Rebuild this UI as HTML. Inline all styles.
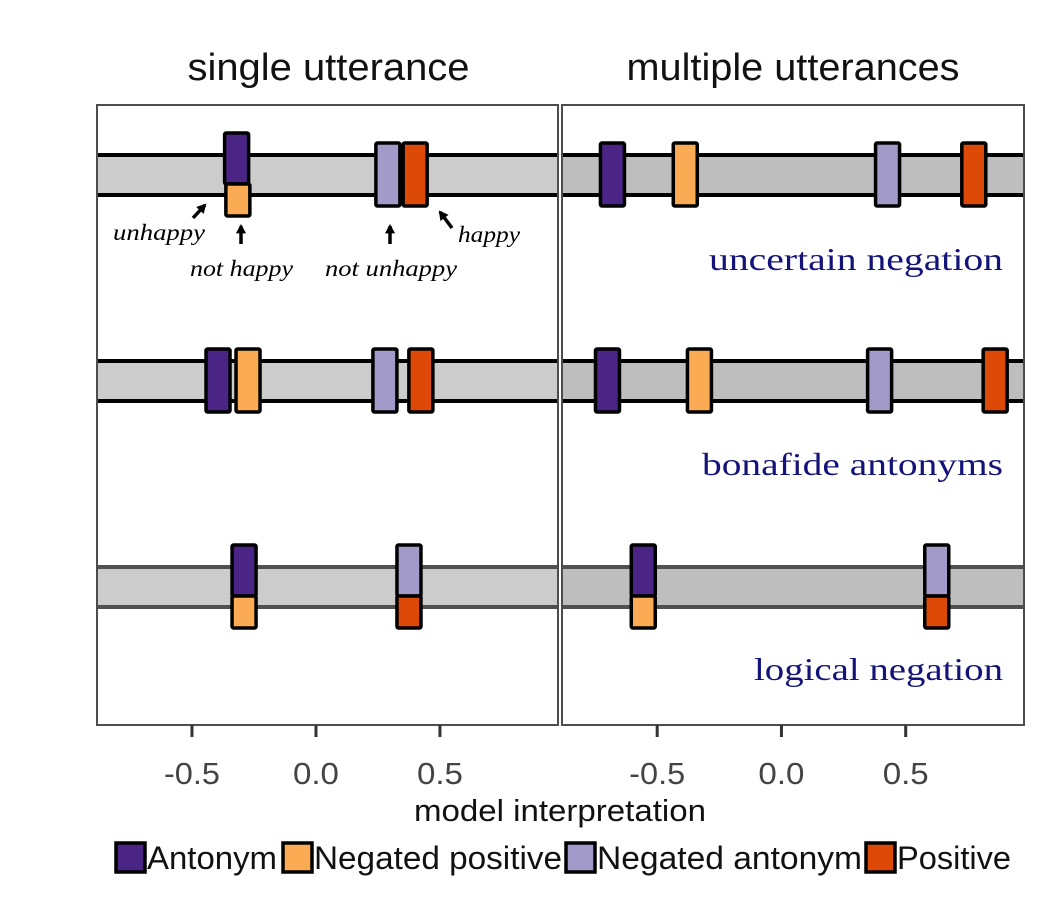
<!DOCTYPE html>
<html><head><meta charset="utf-8"><style>
html,body{margin:0;padding:0;background:#fff;}
svg{display:block;}
</style></head><body>
<svg id="chart" width="1050" height="900" xmlns="http://www.w3.org/2000/svg"></svg>
<script>
const categories = ["Antonym","Negated positive","Negated antonym","Positive"];
const colors = ["#4b2585","#fbab53","#a29ac8","#dd4a08"];
const conditions = ["uncertain negation","bonafide antonyms","logical negation"];
const panels = ["single utterance","multiple utterances"];
// values[condition] = [Antonym, Negated positive, Negated antonym, Positive]
const singleValues = [[-0.32,-0.315,0.29,0.40],[-0.395,-0.274,0.278,0.423],[-0.29,-0.29,0.375,0.375]];
const multipleValues = [[-0.68,-0.387,0.427,0.774],[-0.70,-0.33,0.395,0.86],[-0.556,-0.556,0.625,0.625]];
const tickValues = [-0.5,0.0,0.5];
const tickLabels = ["-0.5","0.0","0.5"];
const xDomain = [-0.883,0.976];

const NS="http://www.w3.org/2000/svg";
const svg=document.getElementById('chart');
function mk(tag,attrs,parent){const e=document.createElementNS(NS,tag);for(const k in attrs)e.setAttribute(k,attrs[k]);(parent||svg).appendChild(e);return e;}
const panelX=[[97,558],[562,1024]];
const plotTop=105,plotBottom=725;
const rowCenter=[175,381,587];
function xs(p,v){const [a,b]=panelX[p];return a+(v-xDomain[0])/(xDomain[1]-xDomain[0])*(b-a);}
const allVals=[singleValues,multipleValues];
const SANS='Liberation Sans, sans-serif';

for(let p=0;p<2;p++){
  const g=mk('g',{});
  
  
  const [a,b]=panelX[p];
  const t=mk('text',{x:(a+b)/2+(p===0?1:0),y:80,'text-anchor':'middle','font-family':SANS,'font-size':38,fill:'#111',textLength:p===0?282:333,lengthAdjust:'spacingAndGlyphs'},g);
  t.textContent=panels[p];
  
  
  for(let r=0;r<3;r++){
    const cy=rowCenter[r];
    const band=mk('rect',{x:a,y:cy-20,width:b-a,height:40,fill:p===0?'#cccccc':'#bebebe'},g);
    
    
    const lc=r===2?'#505050':'#000';
    mk('line',{x1:a,x2:b,y1:cy-20,y2:cy-20,stroke:lc,'stroke-width':4},g);
    mk('line',{x1:a,x2:b,y1:cy+20,y2:cy+20,stroke:lc,'stroke-width':4},g);
  }
  for(let r=0;r<3;r++){
    const cy=rowCenter[r];
    const vals=allVals[p][r];
    for(let i=0;i<4;i++){
      const cx=xs(p,vals[i]);
      let y0=cy-32,h=63;
      const partner=i^1;
      const overlap=Math.abs(xs(p,vals[partner])-cx)<20;
      if(overlap){ if(i%2===0){y0=cy-42;h=51;} else {y0=cy+9;h=32;} }
      const rc=mk('rect',{x:cx-12,y:y0,width:24,height:h,fill:colors[i],stroke:'#000','stroke-width':3.5,rx:1.5},g);
      
      
    }
  }
  mk('rect',{x:a,y:plotTop,width:b-a,height:plotBottom-plotTop,fill:'none',stroke:'#4d4d4d','stroke-width':2},g);
  for(let k=0;k<tickValues.length;k++){
    const x=xs(p,tickValues[k]);
    mk('line',{x1:x,x2:x,y1:plotBottom,y2:plotBottom+12,stroke:'#333','stroke-width':3},g);
    const tl=mk('text',{x:x,y:784,'text-anchor':'middle','font-family':SANS,'font-size':31,fill:'#444',textLength:k===0?56:46,lengthAdjust:'spacingAndGlyphs'},g);
    tl.textContent=tickLabels[k];
    
    
  }
}
const condY=[270,475,680];
const condW=[294,301,249];
for(let r=0;r<3;r++){
  const t=mk('text',{x:1003,y:condY[r],'text-anchor':'end','font-family':'Liberation Serif, serif','font-size':32,fill:'#13137a',textLength:condW[r],lengthAdjust:'spacingAndGlyphs'});
  t.textContent=conditions[r];
  
  
}
const ann=[["unhappy",113,240,92],["not happy",190,276,103],["not unhappy",325,276,132],["happy",458,242,62]];
for(const [s,x,y,w] of ann){
  const t=mk('text',{x:x,y:y,'font-family':'Liberation Serif, serif','font-style':'italic','font-size':23,fill:'#000',textLength:w,lengthAdjust:'spacingAndGlyphs'});
  t.textContent=s;
  
  
}
const arrows=[[193,218,205,205],[241,244,241,226],[390,244,390,226],[452,228,440,212]];
for(const [x1,y1,x2,y2] of arrows){
  mk('line',{x1:x1,y1:y1,x2:x2,y2:y2,stroke:'#000','stroke-width':3.5});
  const ang=Math.atan2(y2-y1,x2-x1),L=9;
  const p1=[x2-L*Math.cos(ang-0.6),y2-L*Math.sin(ang-0.6)],p2=[x2-L*Math.cos(ang+0.6),y2-L*Math.sin(ang+0.6)];
  mk('polygon',{points:(x2+2*Math.cos(ang))+','+(y2+2*Math.sin(ang))+' '+p1.join(',')+' '+p2.join(','),fill:'#000'});
}
const at=mk('text',{x:560,y:821,'text-anchor':'middle','font-family':SANS,'font-size':31,fill:'#111',textLength:292,lengthAdjust:'spacingAndGlyphs'});
at.textContent='model interpretation';


const legKeys=[114,281,564,864];
const legTextW=[130,248,265,114];
for(let i=0;i<4;i++){
  const k=mk('rect',{x:legKeys[i]+2,y:843,width:29,height:29,fill:colors[i],stroke:'#000','stroke-width':3.5});
  
  
  const t=mk('text',{x:legKeys[i]+33,y:869,'font-family':SANS,'font-size':32,fill:'#111',textLength:legTextW[i],lengthAdjust:'spacingAndGlyphs'});
  t.textContent=categories[i];
  
  
}
</script>
</body></html>
